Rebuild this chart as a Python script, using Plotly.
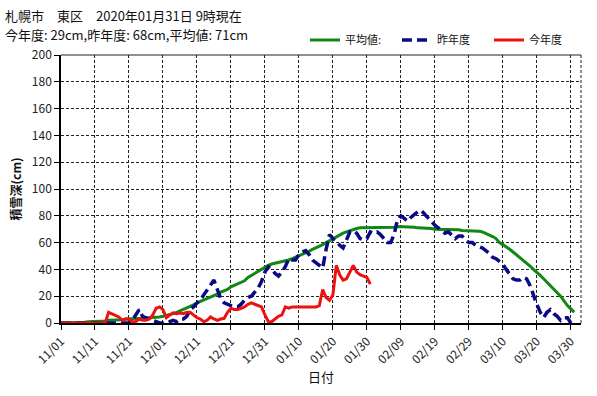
import pandas as pd
import plotly.graph_objects as go

start_date = "2019-11-01"

avg_values = [
    0, 0, 0, 0, 0, 0.5, 0.5, 0.5, 1, 1,
    1, 1, 1.5, 1.5, 2, 2, 2, 2.5, 2.5, 3,
    3, 3, 3, 3.5, 3.5, 3.5, 4, 4, 4, 4.5,
    5, 5.5, 6.5, 7, 8, 9, 10, 11, 12, 13.5,
    15, 16, 17, 18.5, 19.5, 20.5, 21.5, 23, 24, 25,
    27, 28, 29, 30, 31.5, 34, 35.5, 37, 38.5, 40,
    42, 43, 44, 44.5, 45, 45.5, 46, 47, 48, 49,
    50, 51, 52, 53.5, 55, 56, 57, 58.5, 60, 61.5,
    63, 64, 65.5, 67, 68, 69, 70, 70.5, 71, 71,
    71, 71, 71, 71, 71, 71, 71, 71.5, 71.5, 72,
    72, 72, 72, 71.5, 71.5, 71, 71, 71, 70.5, 70.5,
    70, 70, 70, 70, 70, 69.5, 69.5, 69.5, 69, 69,
    69, 69, 68.5, 68.5, 68, 67, 66, 64.5, 63, 60,
    58.5, 57, 55, 53, 51, 49, 47, 45, 42.5, 40,
    38, 35.5, 33, 30.5, 28, 25.5, 23, 20, 16.5, 13,
    10.5, 8,
]

last_year_values = [
    0, 0, 0, 0, 0, 0, 0, 0, 0, 0,
    0, 0, 0, 0, 0, 0, 0, 0, 0, 0,
    0, 2, 6, 10, 5, 4, 3, 2, 1, 0,
    0, 0, 1, 2, 1, 3, 3, 5, 10, 12,
    15, 17, 21, 25, 29, 32, 25, 18, 15, 14,
    13, 12, 12, 14, 17, 19, 20, 23, 26, 31,
    38, 42, 40, 37, 35, 38, 42, 48, 47, 47,
    51, 53, 54, 51, 47, 45, 43, 41, 55, 66,
    63, 61, 58, 56, 62, 68, 69, 67, 63, 62,
    63, 68, 67, 68, 66, 63, 60, 60, 66, 77,
    80, 78, 76, 79, 81, 83, 84, 81, 79, 76,
    73, 71, 69, 67, 68, 65, 63, 65, 65, 62,
    60, 60, 58, 57, 56, 54, 52, 49, 48, 46,
    44, 40, 36, 33, 32, 32, 34, 33, 28, 20,
    14, 8, 4, 8, 10, 7, 5, 2, 4, 4,
    0, 0,
]

this_year_values = [
    0, 0, 0, 0, 0, 0, 0, 0, 0, 0,
    0, 0, 0, 0, 8, 7, 6, 4.5, 2, 3,
    3, 1, 1, 3, 2, 2, 3, 6, 11, 12,
    10, 4, 6, 7.5, 7, 7.5, 7, 8, 8, 6,
    4, 3, 1, 2, 4.5, 3, 2, 3, 3.5, 8,
    11, 10, 10, 11, 12, 14, 15, 14, 13, 12,
    6, 1, 1, 3, 5, 6, 12, 11, 12, 12,
    12, 12, 12, 12, 12, 12, 13, 25, 19, 17,
    21, 43, 36, 32, 33, 38, 43, 38, 36, 35,
    34, 29,
]

series_names = ["平均値:", "昨年度", "今年度"]
title_line1 = "札幌市　東区　2020年01月31日 9時現在"
title_line2 = "今年度: 29cm,昨年度: 68cm,平均値: 71cm"
x_title = "日付"
y_title = "<b>積雪深(cm)</b>"

FONT = "Noto Sans CJK JP"

def dates(n):
    return pd.date_range(start_date, periods=n, freq="D")

fig = go.Figure()
fig.add_trace(go.Scatter(
    x=dates(len(avg_values)), y=avg_values, mode="lines", name=series_names[0],
    line=dict(color="#118811", width=3),
))
fig.add_trace(go.Scatter(
    x=dates(len(last_year_values)), y=last_year_values, mode="lines", name=series_names[1],
    line=dict(color="#0a0a85", width=3.5, dash="10px,5px"),
))
fig.add_trace(go.Scatter(
    x=dates(len(this_year_values)), y=this_year_values, mode="lines", name=series_names[2],
    line=dict(color="#ee1111", width=3),
))

fig.update_layout(
    width=597, height=396,
    margin=dict(l=61, r=16, t=55, b=73),
    paper_bgcolor="white", plot_bgcolor="white",
    font=dict(family=FONT, size=12, color="#111"),
    showlegend=True,
    legend=dict(
        orientation="h", x=1.0, xanchor="right", y=1.056, yanchor="middle",
        font=dict(size=11, family=FONT), bgcolor="rgba(0,0,0,0)",
        traceorder="normal", entrywidth=47, entrywidthmode="pixels",
    ),
    annotations=[
        dict(text=title_line1, xref="paper", yref="paper", x=-0.112, y=1.147,
             xanchor="left", yanchor="middle", showarrow=False,
             font=dict(size=13, family=FONT)),
        dict(text=title_line2, xref="paper", yref="paper", x=-0.112, y=1.076,
             xanchor="left", yanchor="middle", showarrow=False,
             font=dict(size=13, family=FONT)),
    ],
    shapes=[
        dict(type="line", xref="paper", yref="paper", x0=1, x1=1, y0=0, y1=1,
             line=dict(color="#222", width=1, dash="3px,2px")),
        dict(type="line", xref="paper", yref="paper", x0=0, x1=1, y0=1, y1=1,
             line=dict(color="#222", width=1)),
    ],
)

fig.update_xaxes(
    type="date", range=["2019-11-01", "2020-04-02"],
    tick0="2019-11-01", dtick=864000000, tickformat="%m/%d",
    tickangle=-45, tickfont=dict(size=12, family=FONT, color="#222"),
    ticks="outside", ticklen=5, tickcolor="#000",
    showline=True, linecolor="#000", linewidth=1.5,
    showgrid=True, gridcolor="#222", gridwidth=1, griddash="3px,2px",
    title=dict(text=x_title, font=dict(size=13, family=FONT), standoff=6),
    zeroline=False,
)
fig.update_yaxes(
    range=[0, 200], dtick=20, tick0=0,
    tickfont=dict(size=12, family=FONT, color="#222"),
    ticks="outside", ticklen=5, tickcolor="#000",
    showline=True, linecolor="#000", linewidth=1.5,
    showgrid=True, gridcolor="#222", gridwidth=1, griddash="3px,2px",
    title=dict(text=y_title, font=dict(size=12, family=FONT), standoff=8),
    zeroline=False,
)

fig.write_html("out.html")
